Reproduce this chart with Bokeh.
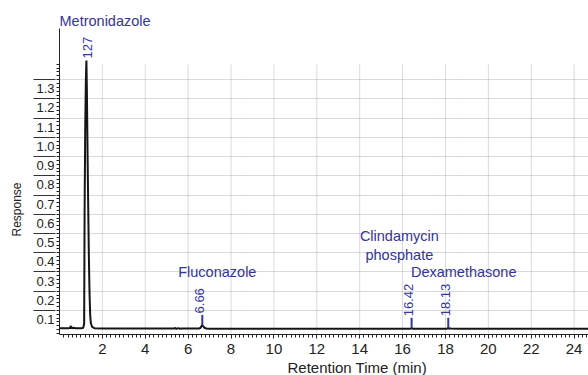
from bokeh.plotting import figure
from bokeh.models import (Range1d, LinearAxis, FixedTicker, CustomJSTickFormatter,
                          BasicTickFormatter, Label, Grid, ColumnDataSource, Title)
from bokeh.core.properties import value
from bokeh.embed import file_html
from bokeh.resources import INLINE
import math

# ---------------- data ----------------
time_min = [0.00, 0.45, 0.50, 0.53, 0.55, 0.58, 0.62, 0.66, 0.72, 1.00, 1.10,
            1.15, 1.17, 1.20, 1.23, 1.255, 1.28, 1.31, 1.34, 1.37, 1.40, 1.43,
            1.46, 1.52, 1.62, 2.00, 5.35, 5.40, 5.45, 5.55, 5.60, 5.70, 6.50,
            6.58, 6.63, 6.66, 6.70, 6.76, 6.85, 7.00, 16.35, 16.42, 16.50,
            18.05, 18.13, 18.25, 18.60, 24.70]
response = [0.008, 0.008, 0.010, 0.020, 0.005, 0.013, 0.006, 0.011, 0.008, 0.008, 0.009,
            0.030, 0.600, 1.050, 1.300, 1.400, 1.220, 0.900, 0.630, 0.380, 0.190, 0.080,
            0.035, 0.015, 0.008, 0.006, 0.006, 0.009, 0.004, 0.008, 0.005, 0.006, 0.006,
            0.010, 0.020, 0.022, 0.018, 0.010, 0.006, 0.005, 0.005, 0.007, 0.005,
            0.005, 0.007, 0.006, 0.005, 0.005]

peak_rt = [1.27, 6.66, 16.42, 18.13]
peak_top = [1.40, 0.022, 0.007, 0.007]
peak_rt_labels = ["127", "6.66", "16.42", "18.13"]
compound_names = ["Metronidazole", "Fluconazole", "Clindamycin\nphosphate", "Dexamethasone"]

x_tick_values = [2, 4, 6, 8, 10, 12, 14, 16, 18, 20, 22, 24]
x_tick_labels = ["2", "4", "6", "8", "10", "12", "14", "16", "18", "20", "22", "24"]
y_tick_values = [0.1, 0.2, 0.3, 0.4, 0.5, 0.6, 0.7, 0.8, 0.9, 1.0, 1.1, 1.2, 1.3]
y_tick_labels = ["0.1", "0.2", "0.3", "0.4", "0.5", "0.6", "0.7", "0.8", "0.9",
                 "1.0", "1.1", "1.2", "1.3"]

x_title = "Retention Time (min)"
y_title = "Response"

# ---------------- layout / style ----------------
FONT = "Liberation Sans"
BLUE = "#34349a"
INK = "#222222"
GRID = "#b4b4b4"

X0, X1 = 0.0, 24.67
Y0, Y1 = -0.025, 1.566
LAB_SHIFT = 0.047          # tick labels hang half a step below their tick line
GRID_TOP = 1.38

# compound names other than the first one (which sits above the frame)
name_x = [None, 7.36, 15.85, 18.85]
name_y = [None, 0.298, 0.437, 0.298]
rt_x_off = [1, -3, -3, -3]
rt_y_off = [-2, -12, -12, -12]

p = figure(width=588, height=375, x_range=Range1d(X0, X1), y_range=Range1d(Y0, Y1),
           output_backend="svg", toolbar_location=None, y_axis_location=None,
           x_axis_location=None,
           min_border_top=28, min_border_right=0, min_border_left=59,
           min_border_bottom=0)
p.outline_line_color = None
p.background_fill_color = "white"
p.grid.visible = False
p.extra_y_ranges = {"lab": Range1d(Y0 + LAB_SHIFT, Y1 + LAB_SHIFT)}

y_minor = [round(-0.02 + 0.02 * i, 2) for i in range(71)]
x_minor = [round(0.2 * i, 1) for i in range(1, 124)]

# inner left axis: ruler + labels (shifted range)
lab_axis = LinearAxis(
    y_range_name="lab",
    ticker=FixedTicker(ticks=y_tick_values, minor_ticks=[m + LAB_SHIFT for m in y_minor]),
    formatter=BasicTickFormatter(precision=1),
    major_label_overrides=dict(zip(y_tick_values, y_tick_labels)),
    major_tick_out=0, major_tick_in=0, minor_tick_out=3, minor_tick_in=0,
    major_label_standoff=2,
    axis_line_color=INK, minor_tick_line_color=INK,
    major_label_text_font=FONT, major_label_text_font_size="13px",
    major_label_text_color=INK,
)
p.add_layout(lab_axis, "left")

# outer left axis: long tick lines over the labels
tick_axis = LinearAxis(
    ticker=FixedTicker(ticks=y_tick_values, minor_ticks=[]),
    formatter=CustomJSTickFormatter(code="return ''"),
    major_tick_in=22, major_tick_out=0, minor_tick_in=0, minor_tick_out=0,
    major_tick_line_color="#333333",
    axis_line_color=None, major_label_standoff=0,
)
p.add_layout(tick_axis, "left")

# y title (placed below centre as in the reference)
p.add_layout(Title(text=y_title, align="left", offset=98, standoff=15,
                   vertical_align="top",
                   text_font=FONT, text_font_size="12px", text_font_style="normal",
                   text_color=INK), "left")

# bottom axis
x_axis = LinearAxis(
    ticker=FixedTicker(ticks=x_tick_values, minor_ticks=x_minor),
    major_label_overrides=dict(zip(x_tick_values, x_tick_labels)),
    major_tick_out=4, major_tick_in=0, minor_tick_out=3, minor_tick_in=0,
    major_label_standoff=5,
    axis_line_color=INK, major_tick_line_color=INK, minor_tick_line_color=INK,
    major_label_text_font=FONT, major_label_text_font_size="15px",
    major_label_text_color=INK,
)
p.add_layout(x_axis, "below")

# x-axis title, placed off-centre as in the reference
p.add_layout(Title(text=x_title, align="left", offset=228, standoff=0,
                   text_font=FONT, text_font_size="15px", text_font_style="normal",
                   text_color=INK), "below")

# first compound name sits above the frame
p.add_layout(Title(text=compound_names[0], align="left", offset=0, standoff=0,
                   text_font=FONT, text_font_size="14.5px", text_font_style="normal",
                   text_color=BLUE), "above")

# grids
p.add_layout(Grid(dimension=1, ticker=FixedTicker(ticks=y_tick_values),
                  grid_line_color=GRID, grid_line_dash="1 1", grid_line_width=1), "center")
p.segment(x0=x_tick_values, y0=[Y0] * len(x_tick_values), x1=x_tick_values,
          y1=[GRID_TOP] * len(x_tick_values), line_color=GRID, line_dash="1 1", line_width=1)

# trace
p.line(time_min, response, line_color="#151515", line_width=2)

# retention-time markers
p.segment(x0=peak_rt[1:], y0=peak_top[1:], x1=peak_rt[1:],
          y1=[t + 0.055 for t in peak_top[1:]], line_color=BLUE, line_width=2)
src = ColumnDataSource(dict(x=peak_rt, y=peak_top, t=peak_rt_labels,
                            xo=rt_x_off, yo=rt_y_off))
p.text(x="x", y="y", text="t", x_offset="xo", y_offset="yo", source=src,
       angle=math.pi / 2, text_align="left", text_baseline="middle",
       text_font=value(FONT), text_font_size=value("13px"), text_color=BLUE)

# other compound names
for nm, nx, ny in zip(compound_names[1:], name_x[1:], name_y[1:]):
    p.add_layout(Label(x=nx, y=ny, text=nm, text_align="center", text_baseline="middle",
                       text_font=FONT, text_font_size="14.5px", text_color=BLUE,
                       text_line_height=1.2))

open("out.html", "w").write(file_html(p, INLINE))
